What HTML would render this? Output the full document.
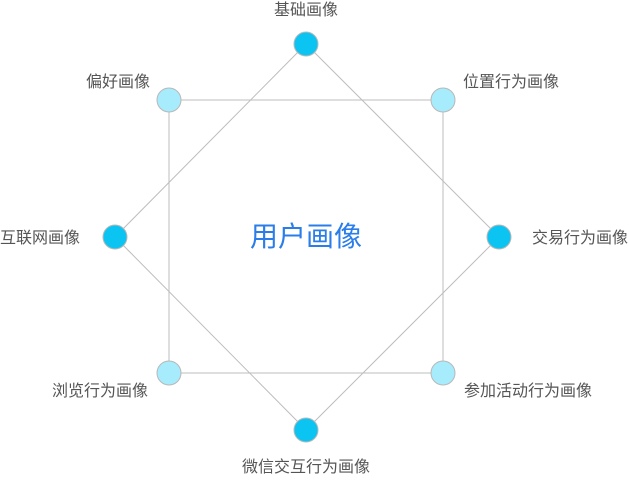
<!DOCTYPE html>
<html><head><meta charset="utf-8"><style>
body{margin:0;background:#fff;}
svg text{font-family:"Liberation Sans","Noto Sans CJK SC",sans-serif;fill:#555;font-size:16px;}
</style></head><body>
<svg width="629" height="475" viewBox="0 0 629 475" xmlns="http://www.w3.org/2000/svg">
<g stroke="#bdbdbd" stroke-width="1" fill="none">
<polygon points="169,100 443,100 443,373 169,373"/>
<polygon points="306,44 499,237 306,430 115,237"/>
</g>
<g stroke="#b8b8b8" stroke-width="1">
<circle cx="306" cy="44" r="12" fill="#0cc4f2"/>
<circle cx="499" cy="237" r="12" fill="#0cc4f2"/>
<circle cx="306" cy="430" r="12" fill="#0cc4f2"/>
<circle cx="115" cy="237" r="12" fill="#0cc4f2"/>
<circle cx="169" cy="100" r="12" fill="#a6ecfd"/>
<circle cx="443" cy="100" r="12" fill="#a6ecfd"/>
<circle cx="169" cy="373" r="12" fill="#a6ecfd"/>
<circle cx="443" cy="373" r="12" fill="#a6ecfd"/>
</g>
<text x="306" y="15" text-anchor="middle">基础画像</text>
<text x="150" y="87" text-anchor="end">偏好画像</text>
<text x="463" y="87">位置行为画像</text>
<text x="80" y="243" text-anchor="end">互联网画像</text>
<text x="532" y="243">交易行为画像</text>
<text x="148" y="396" text-anchor="end">浏览行为画像</text>
<text x="464" y="396">参加活动行为画像</text>
<text x="306" y="472" text-anchor="middle">微信交互行为画像</text>
<text x="306" y="246" text-anchor="middle" style="font-size:28px;fill:#2b7de9">用户画像</text>
</svg>
</body></html>
